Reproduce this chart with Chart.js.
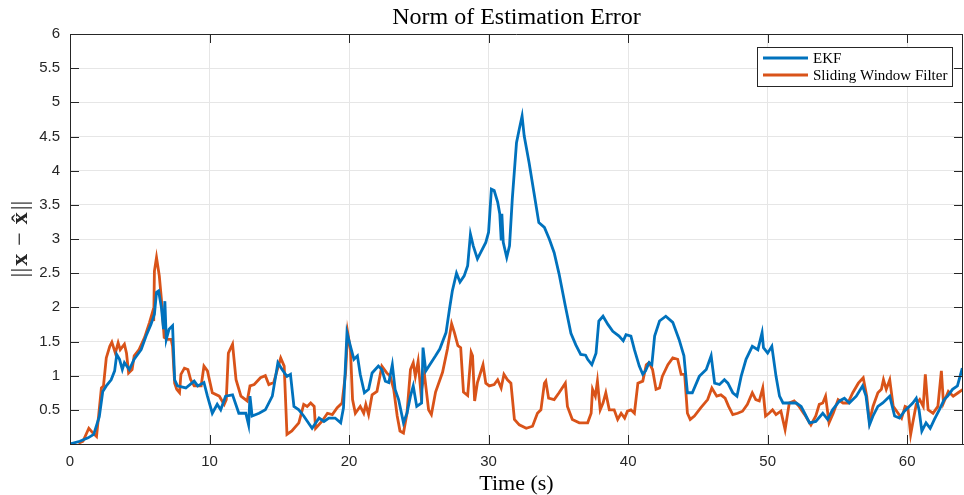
<!DOCTYPE html>
<html>
<head>
<meta charset="utf-8">
<title>Norm of Estimation Error</title>
<script src="https://cdn.jsdelivr.net/npm/chart.js@4.4.1/dist/chart.umd.min.js"></script>
<style>
  html, body { margin: 0; padding: 0; background: #fff; }
  canvas { display: block; }
</style>
</head>
<body>
<canvas id="errChart" width="964" height="495"></canvas>
<script>
// EKF error norm
const ekfTime = [
  0, 0.7, 1.3, 1.7, 2.1, 2.35, 2.6, 2.95, 3.2, 3.35,
  3.55, 3.75, 3.9, 4.25, 4.6, 5.1, 5.45, 5.8, 6.05, 6.2,
  6.35, 6.55, 6.7, 6.8, 6.9, 7.1, 7.35, 7.5, 7.7, 8.3,
  8.9, 9.15, 9.6, 9.85, 10.2, 10.55, 10.8, 11.15, 11.65, 12.1,
  12.6, 12.8, 12.9, 13.05, 13.55, 14.0, 14.5, 14.9, 15.2, 15.55,
  15.8, 16.05, 16.4, 16.75, 17.35, 17.85, 18.2, 18.55, 19.0, 19.4,
  19.6, 19.85, 20.1, 20.35, 20.6, 20.8, 21.1, 21.4, 21.65, 22.1,
  22.35, 22.6, 22.85, 23.1, 23.3, 23.55, 23.9, 24.15, 24.4, 24.6,
  24.85, 25.2, 25.3, 25.5, 25.75, 26.2, 26.5, 26.95, 27.2, 27.4,
  27.7, 27.95, 28.25, 28.5, 28.7, 28.9, 29.2, 29.5, 29.8, 30.0,
  30.2, 30.4, 30.65, 30.8, 30.9, 30.95, 31.05, 31.3, 31.5, 31.7,
  32.0, 32.2, 32.4, 32.55, 32.9, 33.25, 33.6, 34.0, 34.35, 34.7,
  35.05, 35.5, 35.9, 36.25, 36.6, 36.95, 37.1, 37.4, 37.7, 37.9,
  38.2, 38.55, 38.9, 39.35, 39.65, 39.85, 40.2, 40.45, 40.8, 41.05,
  41.25, 41.5, 41.7, 41.9, 42.25, 42.7, 43.2, 43.65, 44.0, 44.25,
  44.6, 45.1, 45.6, 45.95, 46.2, 46.55, 46.9, 47.15, 47.5, 47.8,
  48.1, 48.45, 48.9, 49.3, 49.6, 49.7, 50.0, 50.3, 50.6, 50.85,
  51.1, 51.55, 52.05, 52.4, 52.65, 53.0, 53.45, 53.95, 54.3, 54.65,
  55.15, 55.5, 55.85, 56.35, 56.8, 57.05, 57.3, 57.55, 57.9, 58.25,
  58.75, 59.1, 59.45, 59.8, 60.15, 60.4, 60.65, 60.85, 61.05, 61.35,
  61.65, 61.95, 62.3, 62.65, 62.9, 63.25, 63.6, 63.95
];
const ekfNorm = [
  0, 0.04, 0.09, 0.14, 0.4, 0.77, 0.85, 0.94, 1.07, 1.31,
  1.24, 1.09, 1.19, 1.09, 1.24, 1.38, 1.58, 1.75, 1.9, 2.22,
  2.24, 2.0, 1.68, 2.09, 1.53, 1.68, 1.73, 0.94, 0.85, 0.82,
  0.92, 0.85, 0.9, 0.7, 0.45, 0.58, 0.5, 0.7, 0.72, 0.45,
  0.45, 0.28, 0.7, 0.41, 0.45, 0.5, 0.7, 1.19, 1.09, 0.99,
  1.02, 0.55, 0.5, 0.41, 0.23, 0.38, 0.33, 0.38, 0.38, 0.31,
  0.53, 1.63, 1.43, 1.24, 1.29, 1.02, 0.75, 0.8, 1.04, 1.14,
  1.09, 0.92, 0.9, 1.16, 0.8, 0.65, 0.31, 0.45, 0.7, 0.85,
  0.55, 0.6, 1.41, 1.07, 1.15, 1.29, 1.39, 1.63, 1.98, 2.24,
  2.5, 2.37, 2.46, 2.61, 3.07, 2.9, 2.71, 2.83, 2.95, 3.1,
  3.73, 3.71, 3.54, 3.37, 3.0, 3.37, 2.95, 2.73, 2.9, 3.59,
  4.41, 4.61, 4.8, 4.51, 4.12, 3.68, 3.24, 3.17, 3.0, 2.8,
  2.49, 2.02, 1.62, 1.45, 1.31, 1.3, 1.24, 1.16, 1.33, 1.8,
  1.87, 1.75, 1.65, 1.58, 1.51, 1.6, 1.58, 1.38, 1.14, 1.02,
  1.07, 1.19, 1.16, 1.58, 1.8, 1.87, 1.78, 1.53, 1.29, 0.75,
  0.75, 0.99, 1.09, 1.29, 0.89, 0.87, 0.94, 0.89, 0.75, 0.7,
  0.99, 1.24, 1.43, 1.38, 1.63, 1.41, 1.33, 1.43, 0.99, 0.7,
  0.6, 0.6, 0.6, 0.55, 0.45, 0.31, 0.33, 0.45, 0.36, 0.5,
  0.63, 0.67, 0.6, 0.7, 0.85, 0.7, 0.28, 0.41, 0.55, 0.6,
  0.7, 0.41, 0.38, 0.48, 0.55, 0.6, 0.67, 0.5, 0.19, 0.31,
  0.23, 0.36, 0.5, 0.65, 0.7, 0.8, 0.85, 1.11
];

// Sliding window filter error norm
const swfTime = [
  0.6, 0.93, 1.35, 1.65, 1.9, 2.05, 2.25, 2.4, 2.6, 2.85,
  3.0, 3.25, 3.45, 3.6, 3.9, 4.05, 4.2, 4.45, 4.6, 4.95,
  5.35, 5.7, 5.9, 6.0, 6.05, 6.2, 6.4, 6.55, 6.75, 7.0,
  7.25, 7.35, 7.5, 7.65, 7.85, 7.95, 8.2, 8.45, 8.65, 8.9,
  9.4, 9.6, 9.85, 10.2, 10.7, 11.05, 11.2, 11.35, 11.65, 11.9,
  12.25, 12.7, 12.9, 13.2, 13.65, 14.0, 14.25, 14.6, 15.1, 15.35,
  15.55, 15.9, 16.4, 16.75, 17.0, 17.25, 17.5, 17.6, 18.05, 18.45,
  18.8, 19.15, 19.5, 19.75, 19.9, 20.1, 20.25, 20.45, 20.8, 21.05,
  21.2, 21.4, 21.65, 22.0, 22.35, 22.7, 22.95, 23.2, 23.45, 23.65,
  23.9, 24.15, 24.4, 24.6, 24.75, 24.95, 25.15, 25.4, 25.7, 25.9,
  26.2, 26.7, 27.05, 27.35, 27.55, 27.8, 28.0, 28.2, 28.5, 28.75,
  28.85, 29.0, 29.2, 29.6, 29.8, 30.05, 30.4, 30.65, 30.9, 31.1,
  31.35, 31.6, 31.85, 32.2, 32.7, 33.15, 33.5, 33.75, 34.0, 34.1,
  34.3, 34.7, 35.05, 35.5, 35.65, 36.0, 36.5, 37.1, 37.35, 37.45,
  37.65, 37.8, 38.0, 38.2, 38.4, 38.65, 39.0, 39.25, 39.5, 39.75,
  39.95, 40.2, 40.45, 40.7, 41.05, 41.3, 41.5, 41.75, 42.0, 42.25,
  42.45, 42.85, 43.2, 43.55, 43.8, 44.05, 44.25, 44.45, 44.75, 45.2,
  45.7, 46.0, 46.35, 46.65, 46.95, 47.2, 47.5, 47.85, 48.2, 48.55,
  48.9, 49.15, 49.4, 49.65, 49.85, 50.1, 50.35, 50.6, 50.95, 51.25,
  51.55, 51.9, 52.25, 52.65, 53.1, 53.45, 53.7, 53.95, 54.15, 54.4,
  54.7, 55.05, 55.4, 55.75, 56.1, 56.5, 56.85, 57.1, 57.3, 57.55,
  57.9, 58.15, 58.3, 58.5, 58.75, 59.0, 59.35, 59.6, 59.85, 60.05,
  60.25, 60.4, 60.65, 60.9, 61.15, 61.3, 61.5, 61.85, 62.2, 62.45,
  62.6, 62.95, 63.3, 63.65, 64.0
];
const swfNorm = [
  0.01, 0.04, 0.23, 0.16, 0.11, 0.41, 0.82, 0.85, 1.26, 1.43,
  1.49, 1.33, 1.48, 1.38, 1.46, 1.33, 1.04, 1.09, 1.29, 1.38,
  1.56, 1.78, 1.92, 1.8, 2.53, 2.73, 2.46, 2.12, 1.56, 1.53,
  1.53, 1.43, 0.89, 0.8, 0.75, 1.02, 1.11, 1.09, 0.94, 0.85,
  0.85, 1.14, 1.07, 0.75, 0.7, 0.58, 0.65, 1.33, 1.46, 0.94,
  0.7, 0.63, 0.85, 0.87, 0.97, 1.0, 0.87, 0.9, 1.26, 1.14,
  0.14, 0.19, 0.31, 0.58, 0.55, 0.6, 0.55, 0.23, 0.33, 0.45,
  0.43, 0.53, 0.6, 1.04, 1.63, 1.38, 0.65, 0.45, 0.55, 0.45,
  0.58, 0.43, 0.72, 0.77, 1.14, 1.04, 0.99, 0.8, 0.41, 0.19,
  0.16, 0.45, 1.09, 1.19, 0.99, 1.21, 0.75, 1.02, 0.5, 0.43,
  0.76, 1.05, 1.39, 1.76, 1.63, 1.44, 1.41, 0.76, 0.71, 1.34,
  1.29, 0.63, 0.9, 1.16, 0.89, 0.85, 0.87, 0.94, 0.82, 1.02,
  0.94, 0.89, 0.36, 0.28, 0.23, 0.26, 0.45, 0.5, 0.89, 0.92,
  0.67, 0.65, 0.75, 0.89, 0.55, 0.36, 0.31, 0.31, 0.45, 0.8,
  0.7, 0.92, 0.5, 0.6, 0.75, 0.5, 0.5, 0.36, 0.45, 0.38,
  0.48, 0.5, 0.45, 0.89, 0.92, 1.16, 1.19, 1.09, 0.8, 0.82,
  0.99, 1.16, 1.26, 1.24, 1.02, 1.02, 0.45, 0.36, 0.41, 0.53,
  0.65, 0.82, 0.7, 0.72, 0.67, 0.55, 0.43, 0.45, 0.48, 0.58,
  0.75, 0.65, 0.63, 0.82, 0.41, 0.45, 0.5, 0.43, 0.48, 0.21,
  0.6, 0.63, 0.55, 0.43, 0.28, 0.41, 0.58, 0.6, 0.7, 0.31,
  0.45, 0.65, 0.6, 0.6, 0.75, 0.89, 0.97, 0.7, 0.33, 0.55,
  0.75, 0.8, 0.94, 0.8, 0.94, 0.55, 0.45, 0.38, 0.55, 0.53,
  0.14, 0.31, 0.58, 0.65, 0.55, 1.02, 0.5, 0.45, 0.55, 1.07,
  0.6, 0.77, 0.7, 0.75, 0.8
];

const seriesLabels = ['EKF', 'Sliding Window Filter'];
const chartTitle = 'Norm of Estimation Error';
const xTickStep = 10;
const yTickStep = 0.5;

const axisColor = '#262626';
const gridColor = '#e6e6e6';

function toPoints(xs, ys) {
  return xs.map((x, i) => ({ x: x, y: ys[i] }));
}

// MATLAB style box: top/right border, inward tick marks, title over the axes
const boxPlugin = {
  id: 'matlabBox',
  afterDraw(chart) {
    const ctx = chart.ctx;
    const a = chart.chartArea;
    const xs = chart.scales.x;
    const ys = chart.scales.y;
    const len = 9;
    ctx.save();
    ctx.strokeStyle = axisColor;
    ctx.lineWidth = 1;
    ctx.beginPath();
    ctx.moveTo(a.left, a.top + 0.5);
    ctx.lineTo(a.right, a.top + 0.5);
    ctx.moveTo(a.right - 0.5, a.top);
    ctx.lineTo(a.right - 0.5, a.bottom);
    xs.ticks.forEach(t => {
      const px = Math.round(xs.getPixelForValue(t.value)) + 0.5;
      ctx.moveTo(px, a.bottom);
      ctx.lineTo(px, a.bottom - len);
      ctx.moveTo(px, a.top);
      ctx.lineTo(px, a.top + len);
    });
    ys.ticks.forEach(t => {
      const py = Math.round(ys.getPixelForValue(t.value)) + 0.5;
      ctx.moveTo(a.left, py);
      ctx.lineTo(a.left + len, py);
      ctx.moveTo(a.right, py);
      ctx.lineTo(a.right - len, py);
    });
    ctx.stroke();

    ctx.fillStyle = '#000';
    ctx.font = '24px "Liberation Serif", serif';
    ctx.textAlign = 'center';
    ctx.textBaseline = 'alphabetic';
    ctx.fillText(chartTitle, (a.left + a.right) / 2, 24);
    ctx.restore();
  }
};

// legend box in the upper right corner of the axes
const legendPlugin = {
  id: 'boxLegend',
  afterDraw(chart) {
    const ctx = chart.ctx;
    const a = chart.chartArea;
    const w = 196, h = 40;
    const left = a.right - 10 - w;
    const top = a.top + 13;
    ctx.save();
    ctx.fillStyle = '#fff';
    ctx.fillRect(left, top, w, h);
    ctx.strokeStyle = axisColor;
    ctx.lineWidth = 1;
    ctx.strokeRect(left + 0.5, top + 0.5, w - 1, h - 1);
    ctx.font = '15px "Liberation Serif", serif';
    ctx.textBaseline = 'middle';
    chart.data.datasets.forEach((ds, i) => {
      const y = top + 11 + i * 17;
      ctx.strokeStyle = ds.borderColor;
      ctx.lineWidth = 3;
      ctx.beginPath();
      ctx.moveTo(left + 6, y);
      ctx.lineTo(left + 51, y);
      ctx.stroke();
      ctx.fillStyle = '#000';
      ctx.fillText(ds.label, left + 56, y + 1);
    });
    ctx.restore();
  }
};

// y axis label ||x - x^|| with bold vectors
const yLabelPlugin = {
  id: 'yLabel',
  afterDraw(chart) {
    const ctx = chart.ctx;
    const a = chart.chartArea;
    const parts = [
      { text: '||', bold: false },
      { text: 'x', bold: true },
      { text: ' \u2212 ', bold: false },
      { text: 'x', bold: true, hat: true },
      { text: '||', bold: false }
    ];
    const size = 24;
    const fontOf = p => (p.bold ? 'bold ' : '') + size + 'px "Liberation Serif", serif';
    ctx.save();
    ctx.translate(27, (a.top + a.bottom) / 2);
    ctx.rotate(-Math.PI / 2);
    ctx.fillStyle = axisColor;
    ctx.textBaseline = 'alphabetic';
    let total = 0;
    parts.forEach(p => { ctx.font = fontOf(p); p.w = ctx.measureText(p.text).width + 2; total += p.w; });
    let x = -total / 2;
    parts.forEach(p => {
      ctx.font = fontOf(p);
      ctx.textAlign = 'left';
      ctx.fillText(p.text, x + 1, 0);
      if (p.hat) {
        ctx.font = size + 'px "Liberation Serif", serif';
        ctx.textAlign = 'center';
        ctx.fillText('\u02C6', x + p.w / 2, 1);
      }
      x += p.w;
    });
    ctx.restore();
  }
};

new Chart(document.getElementById('errChart'), {
  type: 'line',
  data: {
    datasets: [{
      label: seriesLabels[0],
      data: toPoints(ekfTime, ekfNorm),
      borderColor: '#0072BD',
      borderWidth: 2.8,
      pointRadius: 0,
      tension: 0
    }, {
      label: seriesLabels[1],
      data: toPoints(swfTime, swfNorm),
      borderColor: '#D95319',
      borderWidth: 2.8,
      pointRadius: 0,
      tension: 0
    }]
  },
  options: {
    responsive: false,
    animation: false,
    events: [],
    layout: { padding: { top: 34, right: 1, left: 0, bottom: 0 } },
    plugins: {
      legend: { display: false },
      tooltip: { enabled: false },
      title: { display: false }
    },
    scales: {
      x: {
        type: 'linear',
        min: 0,
        max: 64,
        afterFit(scale) { scale.height = 51; },
        grid: { color: gridColor, drawTicks: false },
        border: { color: axisColor },
        ticks: {
          stepSize: xTickStep,
          includeBounds: false,
          padding: 9,
          maxRotation: 0,
          color: axisColor,
          font: { family: '"Liberation Sans", Arial, sans-serif', size: 15 }
        },
        title: {
          display: true,
          text: 'Time (s)',
          color: '#000',
          font: { family: '"Liberation Serif", serif', size: 22, lineHeight: 1.0 },
          padding: 0
        }
      },
      y: {
        min: 0,
        max: 6,
        afterFit(scale) { scale.width = 70; },
        grid: { color: gridColor, drawTicks: false },
        border: { color: axisColor },
        ticks: {
          stepSize: yTickStep,
          padding: 10,
          color: axisColor,
          font: { family: '"Liberation Sans", Arial, sans-serif', size: 15 },
          callback: v => (v === 0 ? '' : v)
        }
      }
    }
  },
  plugins: [boxPlugin, legendPlugin, yLabelPlugin]
});
</script>
</body>
</html>
